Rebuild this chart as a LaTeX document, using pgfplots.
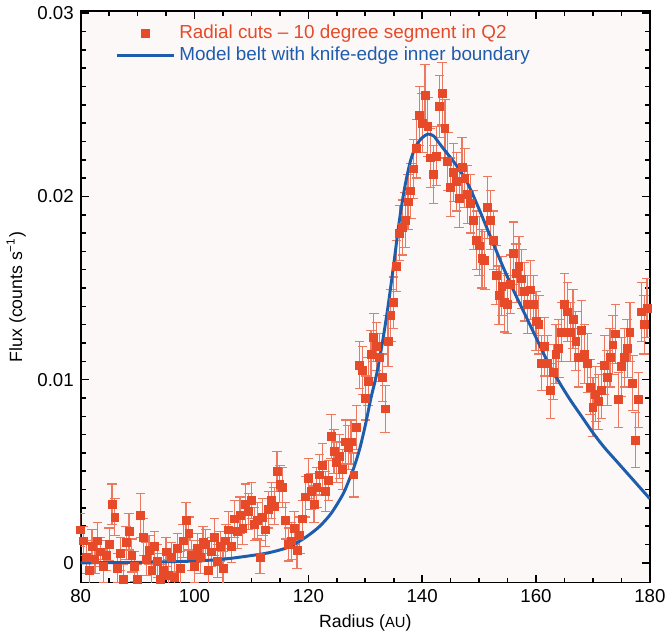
\documentclass[border=0pt]{standalone}
\usepackage{pgfplots}
\pgfplotsset{compat=1.18}
\usepackage{pgfplotstable}
\usepackage{fontspec}
\setmainfont{Liberation Sans}

\definecolor{dotred}{RGB}{230,74,40}
\definecolor{barred}{RGB}{236,120,96}
\definecolor{modelblue}{RGB}{30,92,172}
\definecolor{bgpink}{RGB}{253,248,248}

\pgfplotsset{
  dotlegend/.style={legend image code/.code={%
    \draw[##1] plot coordinates {(14.5pt,0pt)};\path (0pt,0pt) (29pt,0pt);}},
  linelegend/.style={legend image code/.code={%
    \draw[##1] (0pt,0pt) -- (29pt,0pt);}},
}

% radius (AU), flux (counts/s), error
\pgfplotstableread{
r f e
80.0 0.0018 0.0009
80.5 0.0012 0.0008
81.0 0.0003 0.0009
81.5 -0.0004 0.0008
82.0 0.0009 0.0009
82.5 0.0002 0.0008
83.0 0.0012 0.0010
83.5 0.0006 0.0008
84.0 -0.0002 0.0009
84.5 0.0004 0.0008
85.0 0.0010 0.0009
85.5 0.0032 0.0011
86.0 0.0025 0.0010
86.5 -0.0003 0.0008
87.0 0.0005 0.0009
87.5 -0.0009 0.0008
88.0 0.0011 0.0009
88.5 0.0017 0.0010
89.0 0.0004 0.0009
89.5 -0.0002 0.0008
90.0 -0.0009 0.0008
90.5 0.0026 0.0012
91.0 0.0014 0.0010
91.5 0.0002 0.0009
92.0 0.0007 0.0008
92.5 -0.0004 0.0009
93.0 0.0009 0.0008
93.5 0.0001 0.0009
94.0 -0.0009 0.0008
94.5 -0.0004 0.0009
95.0 0.0006 0.0008
95.5 -0.0007 0.0009
96.0 0.0003 0.0008
96.5 -0.0008 0.0009
97.0 0.0008 0.0008
97.5 -0.0003 0.0009
98.0 0.0012 0.0009
98.5 0.0023 0.0010
99.0 0.0016 0.0009
99.5 0.0004 0.0008
100.0 -0.0002 0.0009
100.5 0.0008 0.0008
101.0 0.0003 0.0009
101.5 0.0011 0.0009
102.0 0.0010 0.0008
102.5 -0.0004 0.0009
103.0 0.0006 0.0008
103.5 0.0014 0.0010
104.0 0.0001 0.0009
104.5 0.0009 0.0008
105.0 -0.0003 0.0009
105.5 0.0012 0.0009
106.0 0.0018 0.0010
106.5 0.0009 0.0009
107.0 0.0024 0.0010
107.5 0.0017 0.0009
108.0 0.0026 0.0010
108.5 0.0019 0.0009
109.0 0.0032 0.0011
109.5 0.0028 0.0010
110.0 0.0034 0.0010
110.5 0.0021 0.0009
111.0 0.0023 0.0010
111.5 0.0003 0.0009
112.0 0.0025 0.0010
112.5 0.0018 0.0009
113.0 0.0029 0.0010
113.5 0.0034 0.0010
114.0 0.0031 0.0010
114.5 0.0050 0.0011
115.0 0.0043 0.0010
115.5 0.0041 0.0011
116.0 0.0023 0.0010
116.5 0.0010 0.0009
117.0 0.0012 0.0010
117.5 0.0019 0.0009
118.0 0.0007 0.0010
118.5 0.0015 0.0010
119.0 0.0024 0.0010
119.5 0.0036 0.0011
120.0 0.0046 0.0011
120.5 0.0039 0.0010
121.0 0.0032 0.0010
121.5 0.0041 0.0011
122.0 0.0048 0.0011
122.5 0.0053 0.0012
123.0 0.0039 0.0011
123.5 0.0045 0.0011
124.0 0.0069 0.0012
124.5 0.0061 0.0012
125.0 0.0055 0.0011
125.5 0.0058 0.0012
126.0 0.0051 0.0011
126.5 0.0066 0.0012
127.0 0.0063 0.0012
127.5 0.0066 0.0012
128.0 0.0048 0.0012
128.5 0.0074 0.0012
129.0 0.0108 0.0013
129.5 0.0105 0.0013
130.0 0.0090 0.0012
130.5 0.0099 0.0013
131.0 0.0114 0.0013
131.5 0.0123 0.0013
132.0 0.0118 0.0013
132.5 0.0112 0.0013
133.0 0.0101 0.0013
133.5 0.0084 0.0013
134.0 0.0121 0.0014
134.5 0.0135 0.0014
135.0 0.0142 0.0014
135.5 0.0162 0.0014
136.0 0.0180 0.0015
136.5 0.0183 0.0015
137.0 0.0187 0.0015
137.5 0.0197 0.0015
138.0 0.0203 0.0015
138.5 0.0215 0.0016
139.0 0.0226 0.0016
139.5 0.0244 0.0016
140.0 0.0240 0.0016
140.5 0.0255 0.0017
141.0 0.0238 0.0016
141.5 0.0221 0.0016
142.0 0.0212 0.0016
142.5 0.0222 0.0016
143.0 0.0249 0.0017
143.5 0.0256 0.0017
144.0 0.0237 0.0016
144.5 0.0219 0.0016
145.0 0.0205 0.0016
145.5 0.0213 0.0016
146.0 0.0208 0.0016
146.5 0.0199 0.0016
147.0 0.0216 0.0016
147.5 0.0210 0.0016
148.0 0.0201 0.0016
148.5 0.0196 0.0016
149.0 0.0187 0.0016
149.5 0.0176 0.0016
150.0 0.0173 0.0016
150.5 0.0166 0.0016
151.0 0.0165 0.0016
151.5 0.0194 0.0017
152.0 0.0187 0.0016
152.5 0.0176 0.0016
153.0 0.0157 0.0016
153.5 0.0146 0.0016
154.0 0.0151 0.0016
154.5 0.0142 0.0016
155.0 0.0141 0.0016
155.5 0.0152 0.0016
156.0 0.0169 0.0017
156.5 0.0158 0.0016
157.0 0.0162 0.0016
157.5 0.0155 0.0016
158.0 0.0148 0.0016
158.5 0.0141 0.0016
159.0 0.0149 0.0016
159.5 0.0141 0.0016
160.0 0.0132 0.0016
160.5 0.0130 0.0016
161.0 0.0109 0.0015
161.5 0.0118 0.0016
162.0 0.0109 0.0015
162.5 0.0094 0.0015
163.0 0.0104 0.0015
163.5 0.0114 0.0016
164.0 0.0117 0.0016
164.5 0.0126 0.0016
165.0 0.0141 0.0017
165.5 0.0137 0.0016
166.0 0.0126 0.0016
166.5 0.0133 0.0016
167.0 0.0121 0.0016
167.5 0.0112 0.0016
168.0 0.0127 0.0016
168.5 0.0114 0.0016
169.0 0.0109 0.0016
169.5 0.0096 0.0015
170.0 0.0085 0.0016
170.5 0.0092 0.0015
171.0 0.0088 0.0015
171.5 0.0094 0.0015
172.0 0.0108 0.0016
172.5 0.0101 0.0015
173.0 0.0112 0.0016
173.5 0.0119 0.0016
174.0 0.0125 0.0016
174.5 0.0089 0.0015
175.0 0.0107 0.0016
175.5 0.0112 0.0016
176.0 0.0117 0.0016
176.5 0.0126 0.0016
177.0 0.0098 0.0015
177.5 0.0067 0.0015
178.0 0.0089 0.0015
178.5 0.0137 0.0016
179.0 0.0130 0.0016
179.5 0.0139 0.0016
}\cuts

\pgfplotstableread{
r f
80 0
90 0.00003
95 0.00006
100 0.0001
105 0.0002
110 0.0004
113 0.00055
116 0.0008
118 0.0011
120 0.0015
122 0.002
124 0.0027
126 0.0037
127 0.0044
128 0.0052
129 0.0062
130 0.0075
131 0.009
132 0.0103
133 0.012
134 0.014
135 0.0163
136 0.0187
137 0.0206
138 0.022
139 0.0228
140 0.0232
141 0.0234
142 0.0233
143 0.0229
144 0.0225
146 0.0217
148 0.0207
150 0.0193
152 0.0178
154 0.0163
156 0.0149
158 0.0136
160 0.0123
162 0.011
164 0.0099
166 0.0089
168 0.008
170 0.0071
172 0.0063
174 0.0056
176 0.0049
178 0.0042
180 0.0035
}\model

\begin{document}
\begin{tikzpicture}
\begin{axis}[
    scale only axis,
    width=289.5pt, height=290.5pt,
    xmin=80, xmax=180,
    ymin=-0.00107, ymax=0.0301,
    xtick={80,100,...,180},
    ytick={0,0.01,0.02,0.03},
    minor x tick num=3,
    minor y tick num=9,
    scaled y ticks=false,
    yticklabel style={/pgf/number format/fixed, /pgf/number format/precision=2},
    /pgf/number format/assume math mode=true,
    tick align=inside,
    major tick length=4pt,
    minor tick length=2.5pt,
    tick style={black, line width=0.8pt},
    axis line style={line width=1pt},
    axis background/.style={fill=bgpink},
    ticklabel style={font=\fontsize{9.5}{11}\selectfont},
    xlabel={Radius ({\fontsize{7.5}{9}\selectfont AU})},
    ylabel={Flux (counts s\textsuperscript{−1})},
    label style={font=\fontsize{9}{11}\selectfont},
    xlabel style={yshift=1pt},
    ylabel style={yshift=-1pt},
    legend style={at={(0.05,0.99)}, anchor=north west, draw=none, fill=none,
        font=\fontsize{9.6}{11.5}\selectfont, row sep=-1.5pt},
    legend cell align=left,
]
\addplot[only marks, mark=square*, mark size=2pt, color=dotred, dotlegend,
    error bars/.cd, y dir=both, y explicit,
    error bar style={color=barred, line width=0.6pt},
    error mark options={rotate=90, mark size=2.4pt, color=barred, line width=0.6pt}]
    table[x=r, y=f, y error=e] {\cuts};
\addlegendentry{\textcolor{dotred}{Radial cuts -- 10 degree segment in Q2}}
\addplot[color=modelblue, line width=1.5pt, smooth, linelegend]
    table[x=r, y=f] {\model};
\addlegendentry{\textcolor{modelblue}{Model belt with knife-edge inner boundary}}
\end{axis}
\end{tikzpicture}
\end{document}
